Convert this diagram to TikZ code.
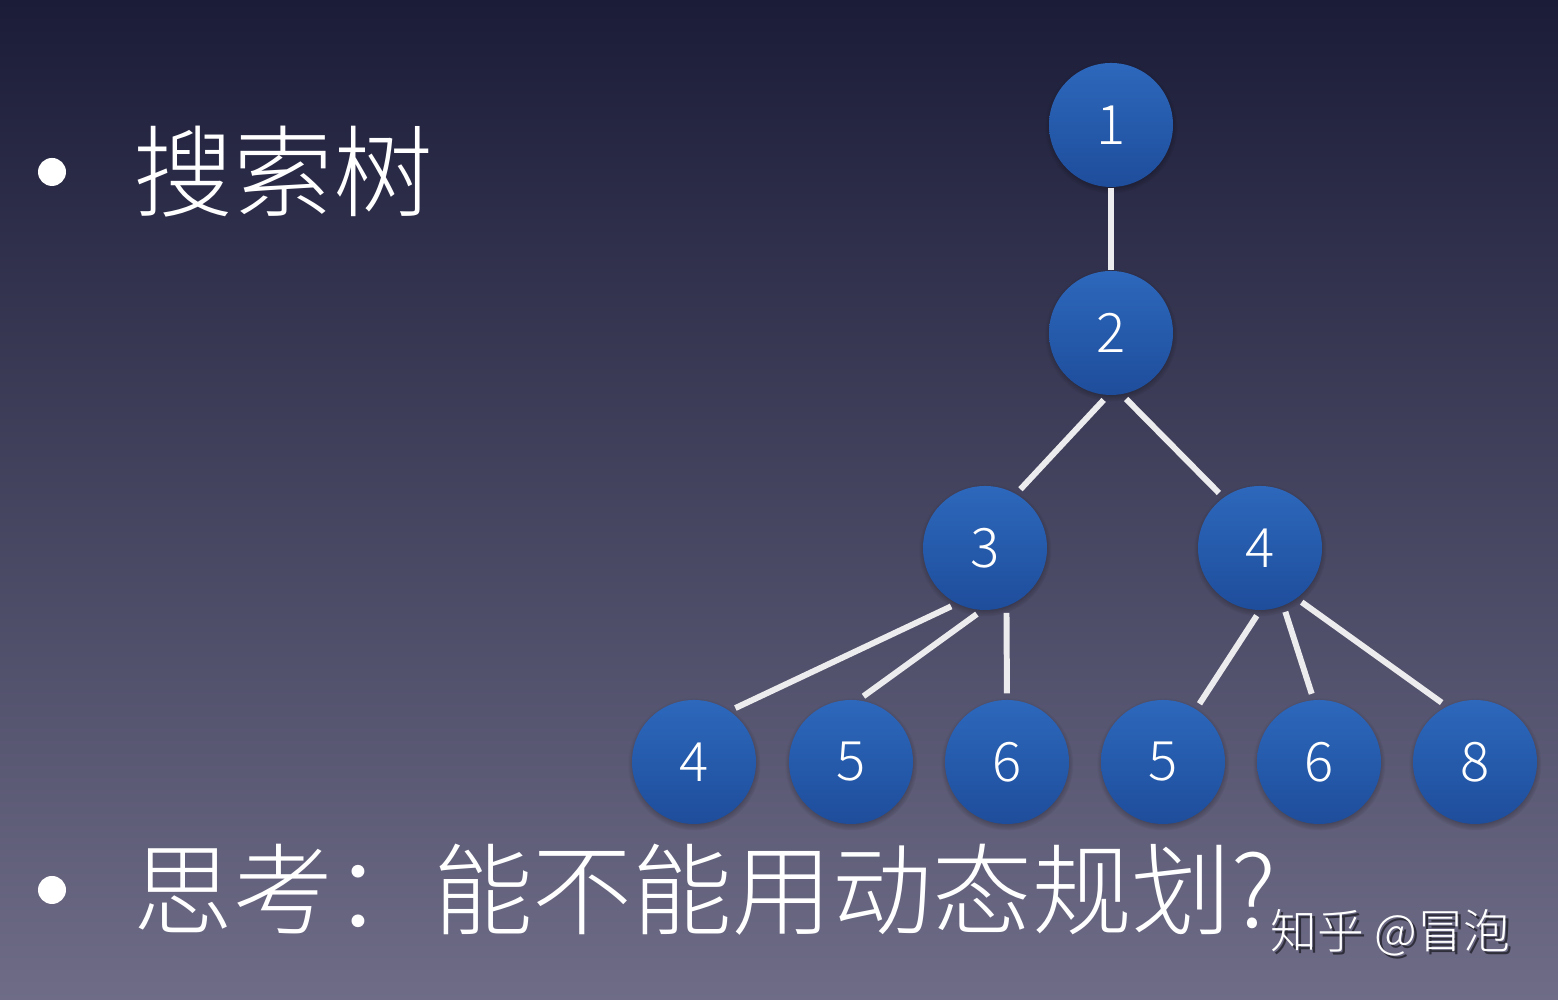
\documentclass[tikz,border=0pt]{standalone}
\usepackage{fontspec}
\setmainfont{Noto Sans CJK SC}[UprightFont=* Light]
\usetikzlibrary{positioning}
\usetikzlibrary{shadows}
\definecolor{bgtop}{RGB}{27,28,56}
\definecolor{bgbot}{RGB}{110,108,135}
\definecolor{balltop}{RGB}{45,104,188}
\definecolor{ballbot}{RGB}{30,77,155}
\definecolor{linkcol}{RGB}{236,236,238}
\newcommand{\bigfont}{\fontsize{28.4pt}{31pt}\selectfont}
\newcommand{\markfont}{\fontsize{13.3pt}{15pt}\selectfont}
\tikzset{
ball/.style={circle, minimum size=1.24cm, inner sep=0pt, top color=balltop, bottom color=ballbot,
  text=white, font=\fontsize{15.5pt}{16pt}\selectfont,
  circular drop shadow={shadow xshift=0pt, shadow yshift=-0.02cm, shadow scale=1.07, opacity=0.35, fill=black}},
link/.style={draw=linkcol, line width=1.7pt, shorten >=0.06cm, shorten <=0.06cm},
bullet/.style={circle, fill=white, minimum size=0.28cm, inner sep=0pt},
say/.style={anchor=west, inner sep=0pt, text=white, font=\bigfont}
}

\begin{document}
\begin{tikzpicture}
\useasboundingbox (0,0) rectangle (15.58,10);
\shade[top color=bgtop, bottom color=bgbot] (0,0) rectangle (15.58,10);

\node[ball] (n1) at (11.11,8.75) {1};
\node[ball] (n2) at (11.11,6.67) {2};
\node[ball] (n3) at (9.85,4.52) {3};
\node[ball] (n4) at (12.60,4.52) {4};
\foreach \x/\lbl/\nm in {6.94/4/a, 8.51/5/b, 10.07/6/c, 11.63/5/d, 13.19/6/e, 14.75/8/f}
  \node[ball] (m\nm) at (\x,2.38) {\lbl};

\draw[link, shorten >=0pt, shorten <=0pt] (n1) -- (n2);
\draw[link] (n2.267) -- (n3.60);
\draw[link] (n2.280) -- (n4.126);
\draw[link] (n3.243) -- (ma.55);
\draw[link] (n3.267) -- (mb.83);
\draw[link] (n3.290) -- (mc.90);
\draw[link] (n4.270) -- (md.58);
\draw[link] (n4.292) -- (me.95);
\draw[link] (n4.306) -- (mf.117);

\node[bullet] (dot1) at (0.52,8.28) {};
\node[say] (title) at (1.33,8.28) {搜索树};
\node[bullet] (dot2) at (0.52,1.10) {};
\node[say] (question) at (1.33,1.10) {思考：能不能用动态规划?};

% watermark
\node[anchor=west, inner sep=0pt, text=black, opacity=0.55, font=\markfont] (markshadow) at (12.73,0.645) {知乎 @冒泡};
\node[anchor=west, inner sep=0pt, text=white, font=\markfont] (mark) at (12.70,0.67) {知乎 @冒泡};
\end{tikzpicture}
\end{document}
